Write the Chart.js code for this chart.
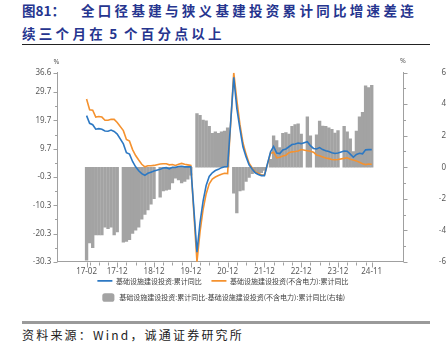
<!DOCTYPE html>
<html><head><meta charset="utf-8">
<script src="https://cdn.jsdelivr.net/npm/chart.js@4.4.1/dist/chart.umd.min.js"></script>
<style>
html,body{margin:0;padding:0;background:#fff;width:446px;height:356px;overflow:hidden;position:relative}
.t{position:absolute;font-family:'Noto Sans CJK SC';font-weight:700;color:#26358f;font-size:13.5px;line-height:16px;white-space:nowrap}
#rule1{position:absolute;left:22px;top:44px;width:408px;height:1px;background:#222}
#rule2{position:absolute;left:22px;top:321px;width:408px;height:2.5px;background:#9a9a9a}
#src{position:absolute;left:22px;top:327px;font-family:'Noto Sans CJK SC';font-size:12px;line-height:16px;color:#222;letter-spacing:2.2px;white-space:nowrap}
#wrap{position:absolute;left:0;top:48px;width:446px;height:264px}
</style></head><body>
<div class="t" style="left:22px;top:2px;">图81：</div>
<div class="t" style="left:81px;top:2px;letter-spacing:3.3px;">全口径基建与狭义基建投资累计同比增速差连</div>
<div class="t" style="left:22px;top:25px;letter-spacing:3.3px;word-spacing:-3px;">续三个月在 5 个百分点以上</div>
<div id="rule1"></div>
<div id="wrap"><canvas id="c" width="446" height="264"></canvas></div>
<div id="rule2"></div>
<div id="src">资料来源：Wind，诚通证券研究所</div>
<script>
// categories (monthly, January values not published)
const months = [
'17-02','17-03','17-04','17-05','17-06','17-07','17-08','17-09','17-10','17-11','17-12',
'18-01','18-02','18-03','18-04','18-05','18-06','18-07','18-08','18-09','18-10','18-11','18-12',
'19-01','19-02','19-03','19-04','19-05','19-06','19-07','19-08','19-09','19-10','19-11','19-12',
'20-01','20-02','20-03','20-04','20-05','20-06','20-07','20-08','20-09','20-10','20-11','20-12',
'21-01','21-02','21-03','21-04','21-05','21-06','21-07','21-08','21-09','21-10','21-11','21-12',
'22-01','22-02','22-03','22-04','22-05','22-06','22-07','22-08','22-09','22-10','22-11','22-12',
'23-01','23-02','23-03','23-04','23-05','23-06','23-07','23-08','23-09','23-10','23-11','23-12',
'24-01','24-02','24-03','24-04','24-05','24-06','24-07','24-08','24-09','24-10','24-11'];

// 基础设施建设投资:累计同比 (%)
const fullYoY = [
21.4,18.7,18.2,16.6,16.8,16.6,16.0,15.9,16.3,15.8,14.9,
null,11.4,8.3,7.8,5.2,3.3,1.9,0.9,0.3,1.0,1.4,1.8,
null,2.4,2.9,3.0,2.6,3.1,3.1,3.4,3.5,3.3,3.3,3.3,
null,-26.9,-16.4,-8.8,-3.3,-0.1,1.2,2.0,2.4,3.0,3.3,3.4,
null,35.0,24.0,16.9,10.4,6.9,4.0,2.5,1.2,0.6,0.2,0.2,
null,8.6,10.5,8.2,8.0,9.3,9.6,10.4,11.2,11.4,11.7,11.5,
null,12.2,10.8,9.8,9.6,10.1,9.4,9.0,8.7,8.3,8.0,8.2,
null,8.9,8.8,7.8,6.7,7.7,8.1,7.9,9.3,9.4,9.4];

// 基础设施建设投资(不含电力):累计同比 (%)
const narrowYoY = [
27.3,23.5,23.3,20.9,21.1,20.9,19.8,19.8,20.1,20.1,19.0,
null,16.1,13.0,12.4,9.4,7.3,5.7,4.2,3.3,3.7,3.7,3.8,
null,4.3,4.4,4.4,4.0,4.1,3.8,4.2,4.5,4.2,4.0,3.8,
null,-30.3,-19.7,-11.8,-6.3,-2.7,-1.0,-0.3,0.2,0.7,1.0,0.9,
null,36.6,26.9,18.4,11.8,7.8,4.6,2.9,1.5,1.0,0.5,0.4,
null,8.1,8.5,6.5,6.7,7.1,7.4,8.3,8.6,8.7,8.9,9.4,
null,9.0,8.8,8.5,7.5,7.2,6.8,6.4,6.2,5.9,5.8,5.9,
null,6.3,6.5,6.0,5.7,5.4,4.9,4.4,4.1,4.3,4.2];

// 差值 (右轴, 百分点)
const diffYoY = [
-5.9,-4.8,-5.1,-4.3,-4.3,-4.3,-3.8,-3.9,-3.8,-4.3,-4.1,
null,-4.75,-4.7,-4.6,-4.2,-4.0,-3.8,-3.3,-3.0,-2.7,-2.35,-2.0,
null,-1.9,-1.5,-1.45,-1.4,-1.0,-0.7,-0.8,-1.0,-0.9,-0.75,-0.5,
null,3.4,3.3,3.0,2.95,2.6,2.15,2.25,2.15,2.25,2.3,2.5,
null,-1.65,-2.9,-1.5,-1.45,-0.9,-0.65,-0.4,-0.3,-0.43,-0.35,-0.2,
null,0.5,2.0,1.7,1.25,2.15,2.2,2.1,2.6,2.7,2.75,2.1,
null,3.2,2.0,null,2.05,2.93,2.62,2.6,2.5,2.4,2.17,2.33,
null,2.6,2.25,1.8,1.0,2.3,3.2,3.48,5.17,5.05,5.2];

const xTickLabels = ['17-02','17-12','18-12','19-12','20-12','21-12','22-12','23-12','24-11'];
const leftTicks = [-30.3,-20.3,-10.3,-0.3,9.7,19.7,29.7,36.6];
const leftMinor = [-25.3,-15.3,-5.3,4.7,14.7,24.7];
const rightTicks = [-6,-4,-2,0,2,4,6];
const rightMinor = [-5,-3,-1,1,3,5];

const seriesNames = ['基础设施建设投资:累计同比','基础设施建设投资(不含电力):累计同比','基础设施建设投资:累计同比-基础设施建设投资(不含电力):累计同比(右轴)'];

const pts = arr => arr.map((v,i)=>({x:i,y:v}));
const quarterIdx = months.map((m,i)=>i).filter(i=> i===0 || i===months.length-1 || /-(03|06|09|12)$/.test(months[i]));

const axisDecor = {
  id:'axisDecor',
  afterDraw(chart){
    const ctx=chart.ctx, a=chart.chartArea, ys=chart.scales.y, yr=chart.scales.y1, xs=chart.scales.x;
    ctx.save();
    ctx.strokeStyle='#a0a0a0'; ctx.lineWidth=1;
    const seg=(x1,y1,x2,y2)=>{ctx.beginPath();ctx.moveTo(x1,y1);ctx.lineTo(x2,y2);ctx.stroke();};
    const L=Math.round(a.left)+0.5, R=Math.round(a.right)+0.5, B=Math.round(a.bottom)+0.5;
    leftTicks.forEach(v=>{const p=Math.round(ys.getPixelForValue(v))+0.5; seg(L-4,p,L,p);});
    leftMinor.forEach(v=>{const p=Math.round(ys.getPixelForValue(v))+0.5; seg(L-2.5,p,L,p);});
    rightTicks.forEach(v=>{const p=Math.round(yr.getPixelForValue(v))+0.5; seg(R,p,R+4,p);});
    rightMinor.forEach(v=>{const p=Math.round(yr.getPixelForValue(v))+0.5; seg(R,p,R+2.5,p);});
    quarterIdx.forEach(i=>{const p=Math.round(xs.getPixelForValue(i))+0.5; const major=xTickLabels.includes(months[i]); seg(p,B,p,B+(major?5:3));});
    ctx.fillStyle='#595959'; ctx.textBaseline='middle'; ctx.textAlign='center';
    ctx.font="8px 'Noto Sans'";
    xTickLabels.forEach(l=>{ ctx.fillText(l, xs.getPixelForValue(months.indexOf(l)), a.bottom+10); });
    ctx.font="7px 'Noto Sans'";
    ctx.fillText('%', a.left-1, a.top-11);
    ctx.fillText('%', a.right, a.top-12);
    ctx.restore();
  }
};

const tickFont = {family:"'Noto Sans'", size:8};
new Chart(document.getElementById('c'), {
  type:'bar',
  data:{ datasets:[
    {type:'line', label:seriesNames[0], data:pts(fullYoY), yAxisID:'y', borderColor:'#2c78c3', backgroundColor:'#2c78c3', borderWidth:1.6, pointRadius:0, pointStyle:'line', spanGaps:true, tension:0, order:0},
    {type:'line', label:seriesNames[1], data:pts(narrowYoY), yAxisID:'y', borderColor:'#f5922f', backgroundColor:'#f5922f', borderWidth:1.6, pointRadius:0, pointStyle:'line', spanGaps:true, tension:0, order:0},
    {type:'bar', label:seriesNames[2], data:pts(diffYoY), yAxisID:'y1', backgroundColor:'#a3a3a3', borderWidth:0, barThickness:2.7, order:1}
  ]},
  options:{
    responsive:false, animation:false, devicePixelRatio:1,
    layout:{padding:{left:0,right:0,top:24.7,bottom:1}},
    plugins:{
      tooltip:{enabled:false},
      legend:{position:'bottom', labels:{
        usePointStyle:true, pointStyleWidth:15, padding:9.6, color:'#404040',
        font:{family:"'Noto Sans CJK SC'", size:7},
        generateLabels(chart){
          const items = Chart.defaults.plugins.legend.labels.generateLabels(chart);
          items.forEach(it=>{ const ds=chart.data.datasets[it.datasetIndex];
            if(ds.type==='line'){it.pointStyle='line';} else {it.pointStyle='rectRounded'; it.lineWidth=0; it.strokeStyle='#a3a3a3';} });
          return items;
        }
      }}
    },
    scales:{
      x:{type:'linear', position:'bottom', min:-0.15, max:93.8,
        grid:{display:false, drawTicks:false}, border:{display:true, color:'#a0a0a0'},
        afterFit:s=>{ s.height=6; },
        ticks:{display:false}},
      y:{type:'linear', position:'left', min:-30.3, max:36.6,
        grid:{display:false, drawTicks:false}, border:{display:true, color:'#a0a0a0'},
        afterBuildTicks:s=>{ s.ticks = leftTicks.map(v=>({value:v})); },
        afterFit:s=>{ s.width=57.3; },
        ticks:{padding:6, color:'#595959', font:tickFont, callback:v=>Number(v).toFixed(1)}},
      y1:{type:'linear', position:'right', min:-6, max:6,
        grid:{display:false, drawTicks:false}, border:{display:true, color:'#a0a0a0'},
        afterBuildTicks:s=>{ s.ticks = rightTicks.map(v=>({value:v})); },
        afterFit:s=>{ s.width=43; },
        ticks:{padding:3, crossAlign:'far', color:'#595959', font:tickFont, callback:v=>String(v)}}
    }
  },
  plugins:[axisDecor]
});
</script>
</body></html>
